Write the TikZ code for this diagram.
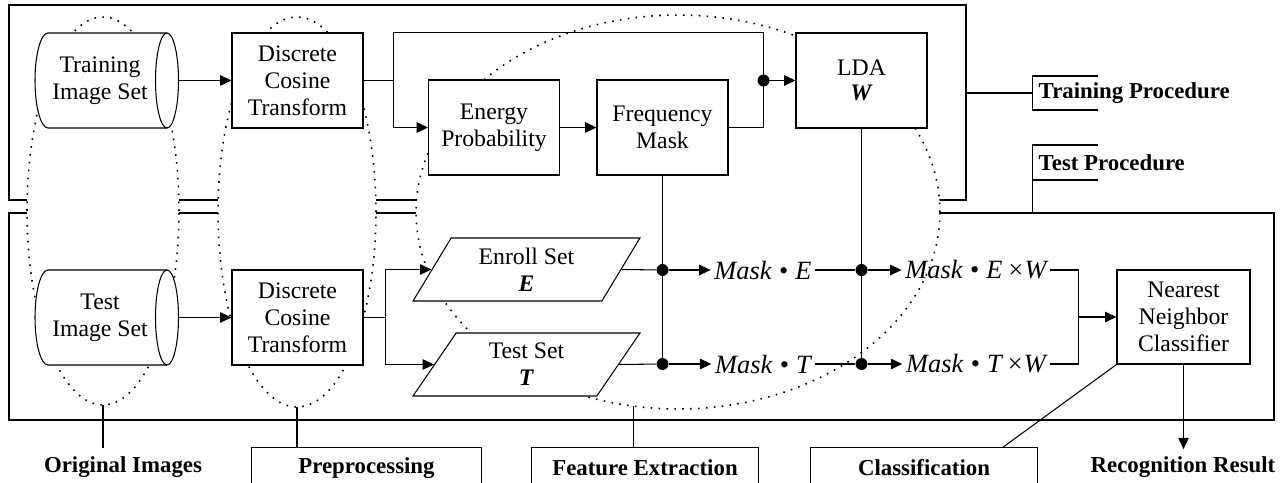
\documentclass[tikz,border=0pt]{standalone}
\usepackage{fontspec}
\setmainfont{Liberation Serif}
\usetikzlibrary{arrows.meta, shapes.geometric, calc}

\tikzset{
  frame/.style={draw, line width=1.1pt, inner sep=0pt},
  box/.style={draw, fill=white, line width=0.6pt, minimum width=2.62cm, minimum height=1.9cm,
    align=center, font=\fontsize{13.5}{15.3}\selectfont},
  store/.style={draw, fill=white, line width=0.6pt},
  storetext/.style={box, draw=none, fill=none, minimum width=3.12cm},
  dset/.style={box, trapezium, trapezium left angle=63.8, trapezium right angle=116.2,
    trapezium stretches=true, minimum width=4.58cm, minimum height=1.26cm},
  zone/.style={ellipse, draw, fill=white, line width=0.9pt, dash pattern=on 0.9pt off 3.6pt,
    inner sep=0pt, outer sep=0pt},
  wire/.style={line width=0.6pt},
  arr/.style={wire, -{Triangle[length=6.5pt, width=6pt]}},
  junc/.style={circle, fill, inner sep=0pt, minimum size=0.24cm},
  expr/.style={font=\fontsize{15}{18}\selectfont\itshape, inner sep=2pt},
  lbl/.style={font=\fontsize{13}{15}\selectfont\bfseries},
  tag/.style={lbl, minimum height=0.8cm, inner sep=0pt}
}

% image store outline, body centred at (#1,#2)
\newcommand{\imgstore}[2]{%
  \filldraw[store] (#1-59.5,#2+47.5) arc[start angle=270, end angle=90, x radius=0.26cm, y radius=0.95cm]
    -- (#1+59.5,#2-47.5) arc[start angle=90, end angle=-90, x radius=0.23cm, y radius=0.95cm] -- cycle;
  \draw[store, fill=none] (#1+59.5,#2+47.5) arc[start angle=270, end angle=90, x radius=0.23cm, y radius=0.95cm];}

\begin{document}
\begin{tikzpicture}[x=0.02cm, y=-0.02cm]
  \useasboundingbox (0,0) rectangle (1288,483);

  % the two procedure frames
  \node[frame, minimum width=19.14cm, minimum height=3.9cm] (trainarea) at (487.5,102.5) {};
  \node[frame, minimum width=25.3cm, minimum height=4.14cm] (testarea) at (641.5,316.5) {};

  % stage regions
  \node[zone, minimum width=3.04cm, minimum height=7.76cm] (origzone) at (103,211) {};
  \node[zone, minimum width=3.16cm, minimum height=7.8cm] (prepzone) at (297,212) {};
  \node[zone, minimum width=10.48cm, minimum height=7.88cm] (featzone) at (678,212) {};

  % training procedure
  \imgstore{107.5}{80.5}
  \node[storetext] (trainimg) at (100,80.5) {Training\\Image Set};
  \node[box] (traindct) at (297.5,80.5) {Discrete\\Cosine\\Transform};
  \node[box] (energy) at (494,127.5) {Energy\\Probability};
  \node[box] (fmask) at (662.5,127.5) {Frequency\\Mask};
  \node[box] (lda) at (861.5,80.5) {LDA\\[-1pt]\textbf{\textit{W}}};

  % test procedure
  \imgstore{107.5}{317.5}
  \node[storetext] (testimg) at (100,317.5) {Test\\Image Set};
  \node[box] (testdct) at (297.5,317.5) {Discrete\\Cosine\\Transform};
  \node[dset] (enroll) at (526.5,269.5) {Enroll Set\\\textbf{\textit{E}}};
  \node[dset] (tset) at (526.5,364.5) {Test Set\\\textbf{\textit{T}}};
  \node[expr] (maske) at (763,270) {Mask\;•\;E};
  \node[expr] (maskt) at (763,364) {Mask\;•\;T};
  \node[expr] (maskew) at (976,270) {Mask\;•\;E\,×W};
  \node[expr] (masktw) at (976,364) {Mask\;•\;T\,×W};
  \node[box, minimum width=2.66cm, minimum height=1.88cm] (nnc) at (1183.5,317) {Nearest\\Neighbor\\Classifier};

  % training connections
  \draw[arr] (trainimg.east) -- (traindct.west);
  \coordinate (tsplit) at (393.5,80.5);
  \coordinate (tjoin) at (763.5,80.5);
  \draw[wire] (traindct.east) -- (tsplit);
  \draw[arr] (tsplit) |- (energy.west);
  \draw[wire] (tsplit) -- (tsplit |- lda.north) -| (tjoin);
  \draw[arr] (energy.east) -- (fmask.west);
  \draw[wire] (fmask.east) -| (tjoin);
  \node[junc] at (tjoin) {};
  \draw[arr] (tjoin) -- (lda.west);

  % test connections
  \draw[arr] (testimg.east) -- (testdct.west);
  \coordinate (dsplit) at (385.5,317.5);
  \draw[wire] (testdct.east) -- (dsplit);
  \draw[arr] (dsplit) |- (enroll.left side);
  \draw[arr] (dsplit) |- (tset.left side);
  \node[junc] (je) at (fmask.south |- maske) {};
  \node[junc] (jt) at (fmask.south |- maskt) {};
  \draw[wire] (fmask.south) -- (jt);
  \draw[wire] (enroll.right side) -- (je);
  \draw[wire] (tset.right side) -- (jt);
  \draw[arr] (je) -- (maske.west);
  \draw[arr] (jt) -- (maskt.west);
  \node[junc] (le) at (lda.south |- maske) {};
  \node[junc] (lt) at (lda.south |- maskt) {};
  \draw[wire] (lda.south) -- (lt);
  \draw[wire] (maske.east) -- (le);
  \draw[wire] (maskt.east) -- (lt);
  \draw[arr] (le) -- (maskew.west);
  \draw[arr] (lt) -- (masktw.west);
  \coordinate (cjoin) at (1078.5,317);
  \draw[wire] (maskew.east) -| (cjoin);
  \draw[wire] (masktw.east) -| (cjoin);
  \draw[arr] (cjoin) -- (nnc.west);

  % procedure tags
  \node[lbl, anchor=west] (traintag) at (1032.5,93) {Training Procedure};
  \draw[wire] (trainarea.east |- traintag.west) -- (traintag.west);
  \draw[wire] ($(traintag.west)+(65,-17)$) -- ++(-65,0) -- ++(0,34) -- ++(65,0);
  \node[lbl, anchor=west] (testtag) at (1032.5,162.5) {Test Procedure};
  \draw[wire] ($(testtag.west)+(65,-17.5)$) -- ++(-65,0) -- (testtag.west |- testarea.north);
  \draw[wire] ($(testtag.west)+(0,17.5)$) -- ++(65,0);

  % stage tags
  \node[lbl] (origtag) at (123,467) {Original Images};
  \node[tag, minimum width=4.58cm] (preptag) at (366.5,468) {Preprocessing};
  \node[tag, minimum width=4.52cm] (feattag) at (645,468) {Feature Extraction};
  \node[tag, minimum width=4.52cm] (clstag) at (924,468) {Classification};
  \node[lbl, inner sep=4pt] (result) at (1183,467) {Recognition Result};
  \foreach \t in {preptag, feattag, clstag}
    \draw[wire] (\t.south west) -- (\t.north west) -- (\t.north east) -- (\t.south east);
  \draw[wire] (origzone.south) -- (origzone.south |- preptag.north);
  \draw[wire] (prepzone.south) -- (prepzone.south |- preptag.north);
  \draw[wire] (featzone.257) -- (featzone.257 |- feattag.north);
  \draw[wire] (nnc.south west) -- ($(clstag.north east)+(-35,0)$);
  \draw[arr] (nnc.south) -- (nnc.south |- result.north);
\end{tikzpicture}
\end{document}
